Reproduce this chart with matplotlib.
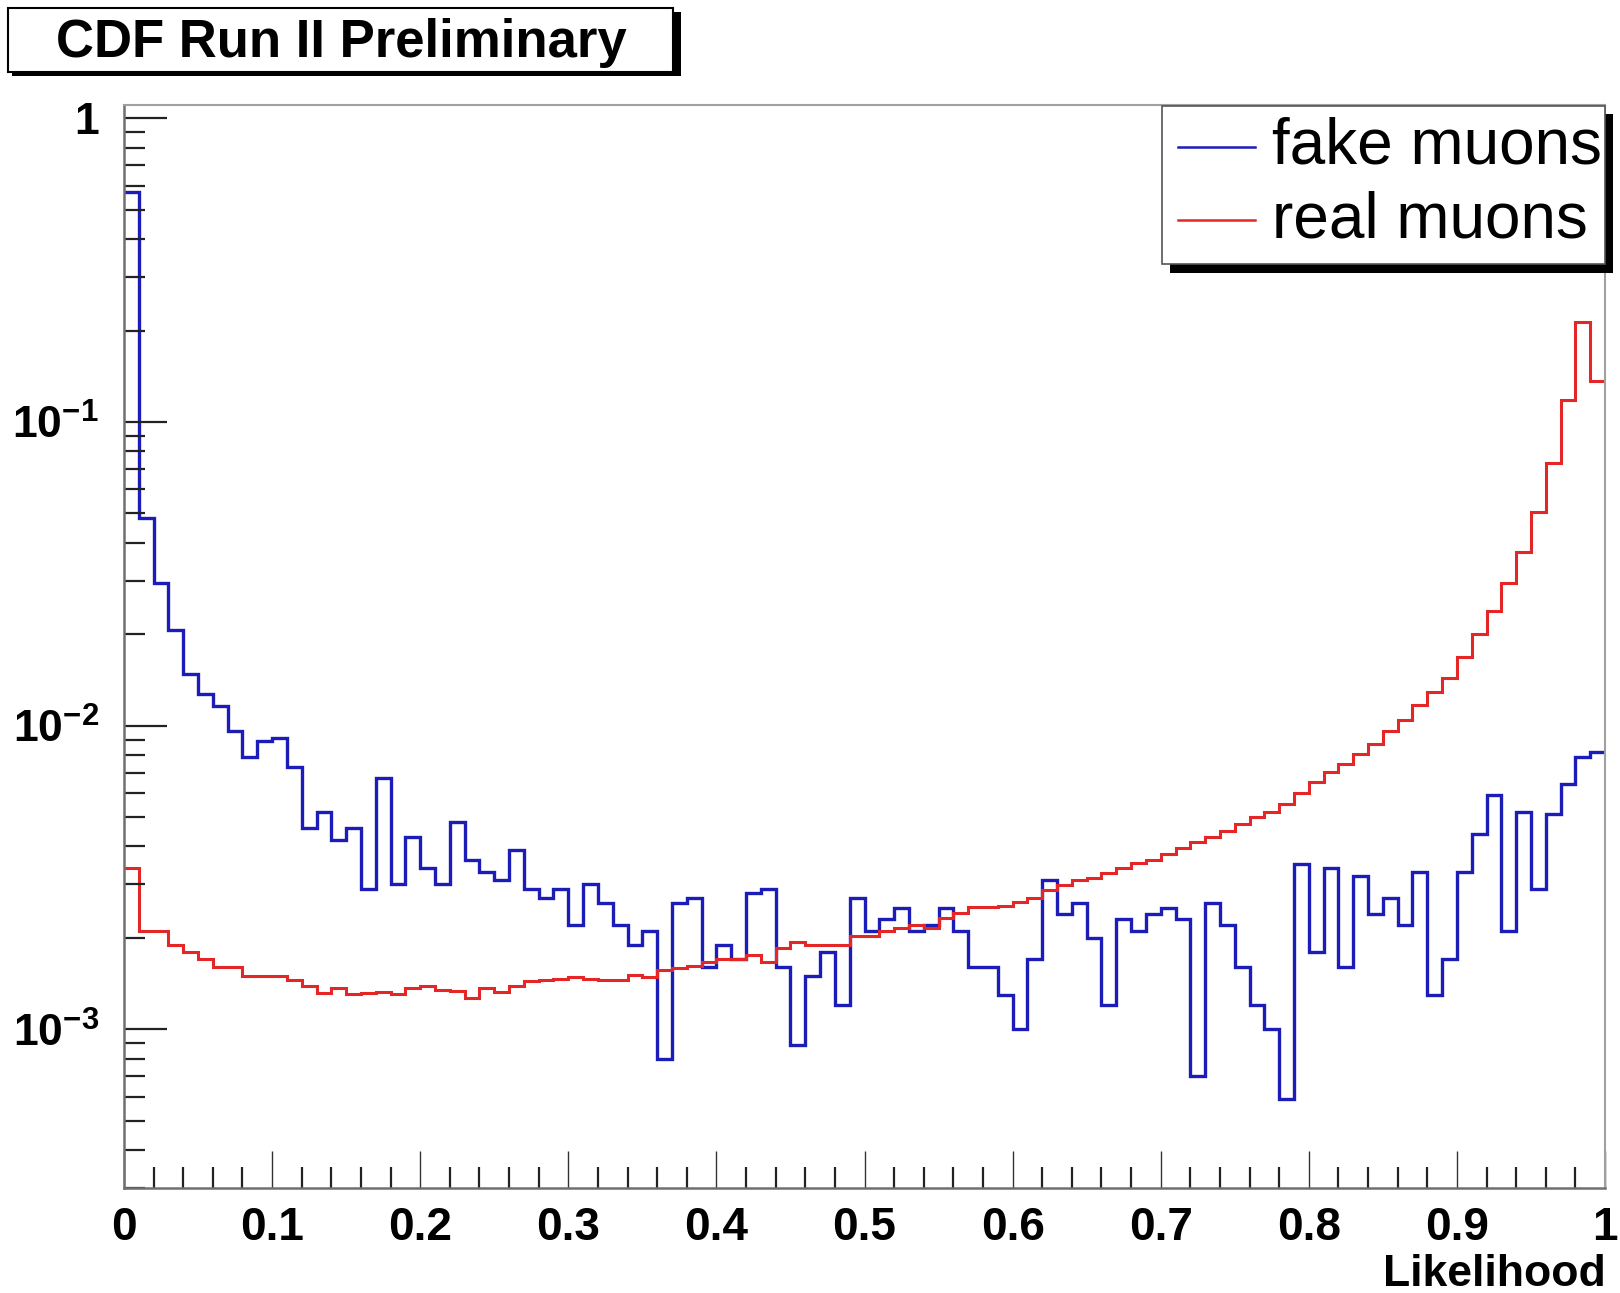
import numpy as np
import matplotlib
matplotlib.use("Agg")
import matplotlib.pyplot as plt
from matplotlib.patches import Rectangle
from matplotlib.lines import Line2D
from matplotlib.ticker import FixedLocator, LogLocator, NullFormatter, MultipleLocator

plt.rcParams['font.family'] = ['Liberation Sans', 'DejaVu Sans']
plt.rcParams['mathtext.fontset'] = 'custom'
plt.rcParams['mathtext.rm'] = 'Liberation Sans'
plt.rcParams['mathtext.bf'] = 'Liberation Sans:bold'

# 100 bins of the likelihood, 0..1
n_bins = 100
x_range = (0.0, 1.0)

fake_muons = [
    0.571, 0.0483, 0.0295, 0.0207, 0.0148, 0.0127, 0.0116, 0.0096, 0.0079, 0.0089,
    0.0091, 0.0073, 0.0046, 0.0052, 0.0042, 0.0046, 0.0029, 0.0067, 0.0030, 0.0043,
    0.0034, 0.0030, 0.0048, 0.0036, 0.0033, 0.0031, 0.0039, 0.0029, 0.0027, 0.0029,
    0.0022, 0.0030, 0.0026, 0.0022, 0.0019, 0.0021, 0.00080, 0.0026, 0.0027, 0.0016,
    0.0019, 0.0017, 0.0028, 0.0029, 0.0016, 0.00089, 0.0015, 0.0018, 0.0012, 0.0027,
    0.0021, 0.0023, 0.0025, 0.0021, 0.0022, 0.0025, 0.0021, 0.0016, 0.0016, 0.0013,
    0.0010, 0.0017, 0.0031, 0.0024, 0.0026, 0.0020, 0.0012, 0.0023, 0.0021, 0.0024,
    0.0025, 0.0023, 0.00070, 0.0026, 0.0022, 0.0016, 0.0012, 0.0010, 0.00059, 0.0035,
    0.0018, 0.0034, 0.0016, 0.0032, 0.0024, 0.0027, 0.0022, 0.0033, 0.0013, 0.0017,
    0.0033, 0.0044, 0.0059, 0.0021, 0.0052, 0.0029, 0.0051, 0.0064, 0.0079, 0.0082,
]

real_muons = [
    0.0034, 0.0021, 0.0021, 0.0019, 0.0018, 0.0017, 0.0016, 0.0016, 0.0015, 0.0015,
    0.0015, 0.00145, 0.00139, 0.00132, 0.00137, 0.00131, 0.00132, 0.00133, 0.00131, 0.00137,
    0.00139, 0.00135, 0.00134, 0.00127, 0.00137, 0.00133, 0.00139, 0.00144, 0.00145, 0.00146,
    0.00149, 0.00146, 0.00145, 0.00145, 0.00151, 0.00149, 0.00157, 0.00159, 0.00161, 0.00167,
    0.00171, 0.00171, 0.00176, 0.00167, 0.00185, 0.00194, 0.00190, 0.00190, 0.00190, 0.00203,
    0.00203, 0.00210, 0.00215, 0.00220, 0.00215, 0.00232, 0.00241, 0.00253, 0.00253, 0.00255,
    0.00262, 0.00271, 0.00287, 0.00299, 0.00310, 0.00316, 0.00326, 0.00339, 0.00352, 0.00361,
    0.00377, 0.00394, 0.00415, 0.00430, 0.00449, 0.00476, 0.00501, 0.00520, 0.00550, 0.00600,
    0.00650, 0.00706, 0.00748, 0.00809, 0.00873, 0.00962, 0.0104, 0.0117, 0.0129, 0.0144,
    0.0168, 0.0200, 0.0238, 0.0295, 0.0372, 0.0506, 0.0731, 0.1185, 0.214, 0.137,
]

y_major = [1e-3, 1e-2, 1e-1, 1.0]
y_labels = [r'$\mathbf{10^{-3}}$', r'$\mathbf{10^{-2}}$', r'$\mathbf{10^{-1}}$', '1']
x_major = [0, 0.1, 0.2, 0.3, 0.4, 0.5, 0.6, 0.7, 0.8, 0.9, 1]
x_labels = ['0', '0.1', '0.2', '0.3', '0.4', '0.5', '0.6', '0.7', '0.8', '0.9', '1']

series_names = ['fake muons', 'real muons']
colors = ['#1c1cb8', '#e52626']

W, H = 1620, 1293
fig = plt.figure(figsize=(W / 100, H / 100), dpi=100)


def fx(px):
    return px / W


def fy(py):
    return 1 - py / H


ax = fig.add_axes([fx(124), fy(1188), fx(1605) - fx(124), fy(105) - fy(1188)])

edges = np.linspace(x_range[0], x_range[1], n_bins + 1)
ax.stairs(fake_muons, edges, color=colors[0], lw=2.4, baseline=None)
ax.stairs(real_muons, edges, color=colors[1], lw=2.2, baseline=None)

ax.set_yscale('log')
ax.set_xlim(0, 1)
ax.set_ylim(3e-4, 1.107)

# y axis, ROOT style: ticks on the left only, pointing in
ax.yaxis.set_major_locator(FixedLocator(y_major))
ax.set_yticklabels(y_labels)
ax.yaxis.set_minor_locator(LogLocator(base=10, subs=np.arange(2, 10)))
ax.yaxis.set_minor_formatter(NullFormatter())
ax.tick_params(axis='y', which='major', direction='in', length=31, width=1.6,
               color='#222222', pad=18, labelsize=32, left=True, right=False)
ax.tick_params(axis='y', which='minor', direction='in', length=15, width=1.6,
               color='#222222', left=True, right=False)

ax.set_xticks(x_major)
ax.set_xticklabels(x_labels)
ax.xaxis.set_minor_locator(MultipleLocator(0.02))
ax.tick_params(axis='x', which='major', direction='in', length=27, width=1.0,
               color='#333333', pad=13, labelsize=33, top=False)
ax.tick_params(axis='x', which='minor', direction='in', length=15, width=1.6,
               color='#222222', top=False)
for lab in ax.get_xticklabels() + ax.get_yticklabels():
    lab.set_fontweight('bold')

for side in ['top', 'right']:
    ax.spines[side].set_color('#a0a0a0')
    ax.spines[side].set_linewidth(1.5)
for side in ['left', 'bottom']:
    ax.spines[side].set_color('#707070')
    ax.spines[side].set_linewidth(1.8)

# x axis title, ROOT puts it at the right end under the labels
fig.text(fx(1606), fy(1286), 'Likelihood', fontsize=32, fontweight='bold',
         ha='right', va='baseline')

# title box with shadow
fig.patches.append(Rectangle((fx(12), fy(76)), fx(677) - fx(8), fy(8) - fy(72),
                             transform=fig.transFigure, facecolor='black',
                             edgecolor='none', zorder=1))
fig.patches.append(Rectangle((fx(8), fy(72)), fx(673) - fx(8), fy(8) - fy(72),
                             transform=fig.transFigure, facecolor='white',
                             edgecolor='black', lw=1.5, zorder=2))
fig.text(fx(341), fy(43), 'CDF Run II Preliminary', fontsize=38, fontweight='bold',
         ha='center', va='center', zorder=3)

# legend box with shadow
fig.patches.append(Rectangle((fx(1170), fy(273)), fx(1613) - fx(1170), fy(114) - fy(273),
                             transform=fig.transFigure, facecolor='black',
                             edgecolor='none', zorder=4))
fig.patches.append(Rectangle((fx(1162), fy(264)), fx(1605) - fx(1162), fy(106) - fy(264),
                             transform=fig.transFigure, facecolor='white',
                             edgecolor='#555555', lw=1.2, zorder=5))
for i, (name, c) in enumerate(zip(series_names, colors)):
    yy = 147 + i * 73
    fig.lines.append(Line2D([fx(1178), fx(1255)], [fy(yy), fy(yy)], color=c, lw=1.8,
                            transform=fig.transFigure, zorder=6))
    fig.text(fx(1272), fy(yy), name, fontsize=46, ha='left', va='center', zorder=6)

fig.savefig('out.png', dpi=100)
